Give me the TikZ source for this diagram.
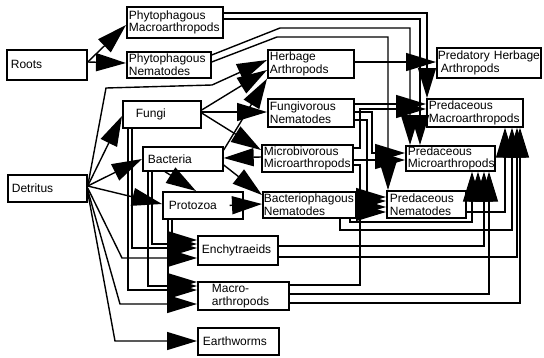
\documentclass[tikz,border=0pt]{standalone}
\usepackage{fontspec}
\setmainfont{Liberation Sans}
\usetikzlibrary{arrows.meta}
\begin{document}
\begin{tikzpicture}[x=1pt,y=-1pt,
  box/.style={draw, line width=1.7pt, anchor=north west, inner ysep=0pt,
    align=left, font=\fontsize{12}{12.8}\selectfont},
  link/.style={line width=1.4pt},
  arr/.style={link, -{Triangle[length=30pt,width=18pt]}},
]
\useasboundingbox (0,0) rectangle (544,357);

% compartments
\node[box, inner xsep=4pt, text width=72pt, minimum height=30pt] (roots) at (6,49) {Roots};
\node[box, inner xsep=2pt, text width=92pt, minimum height=31pt] (pmac) at (126,6) {Phytophagous\\Macroarthropods};
\node[box, inner xsep=2pt, text width=80pt, minimum height=26pt] (pnem) at (126,51) {Phytophagous\\Nematodes};
\node[box, inner xsep=2pt, text width=82pt, minimum height=28pt] (herb) at (267,49) {Herbage\\Arthropods};
\node[box, inner xsep=1pt, text width=102pt, minimum height=30pt] (predherb) at (436,47) {\mbox{Predatory Herbage}\\\hspace*{3pt}Arthropods};
\node[box, inner xsep=13pt, text width=52pt, minimum height=27pt] (fungi) at (122,100) {Fungi};
\node[box, inner xsep=2pt, text width=82pt, minimum height=28pt] (fnem) at (267,98) {Fungivorous\\Nematodes};
\node[box, inner xsep=2pt, text width=92pt, minimum height=28pt] (pmacro) at (426,98) {Predaceous\\Macroarthropods};
\node[box, inner xsep=5pt, text width=70pt, minimum height=24pt] (bact) at (142,146) {Bacteria};
\node[box, inner xsep=2pt, text width=87pt, minimum height=27pt] (micro) at (261,144) {Microbivorous\\Microarthropods};
\node[box, inner xsep=2pt, text width=85pt, minimum height=25pt] (pmicro) at (405,145) {Predaceous\\Microarthropods};
\node[box, inner xsep=4pt, text width=71pt, minimum height=27pt] (detritus) at (7,174) {Detritus};
\node[box, inner xsep=6pt, text width=68pt, minimum height=27pt] (protozoa) at (162,191) {Protozoa};
\node[box, inner xsep=1pt, text width=91pt, minimum height=26pt] (bnem) at (262,191) {Bacteriophagous\\Nematodes};
\node[box, inner xsep=3pt, text width=73pt, minimum height=27pt] (pnemat) at (386,190) {Predaceous\\Nematodes};
\node[box, inner xsep=4pt, text width=72pt, minimum height=29pt] (ench) at (197,235) {Enchytraeids};
\node[box, inner xsep=14pt, text width=63pt, minimum height=28pt] (macro) at (197,281) {Macro-\\arthropods};
\node[box, inner xsep=5pt, text width=71pt, minimum height=27pt] (earth) at (197,327) {Earthworms};

% roots
\draw[arr] (roots.east |- 0,62) -- (pmac.west |- 0,25);
\draw[arr] (roots.east |- 0,62) -- (pnem.west |- 0,63);

% detritus
\draw[arr] (detritus.east |- 0,186) -- (fungi.west |- 0,116);
\draw[arr] (detritus.east |- 0,186) -- (bact.west |- 0,159);
\draw[arr] (detritus.east |- 0,186) -- (protozoa.west |- 0,204);
\draw[arr] (detritus.east |- 0,186) -- (106,88) -- (212,85) -- (herb.west |- 0,60);
\draw[arr] (detritus.east |- 0,188) -- (122,258) -- (ench.west |- 0,258);
\draw[arr] (detritus.east |- 0,190) -- (120,304) -- (macro.west |- 0,304);
\draw[arr] (detritus.east |- 0,192) -- (115,341) -- (earth.west |- 0,341);

% fungi
\draw[arr] (fungi.east |- 0,110) -- (herb.west |- 0,70);
\draw[arr] (fungi.east |- 0,112) -- (fnem.west |- 0,112);
\draw[arr] (fungi.east |- 0,113) -- (micro.west |- 0,150);
\draw[arr] (fungi.south -| 132,0) -- (132,248) -- (ench.west |- 0,248);
\draw[arr] (fungi.south -| 128,0) -- (128,290) -- (macro.west |- 0,290);

% bacteria
\draw[arr] (bact.east |- 0,150) -- (herb.south west);
\draw[arr] (micro.west |- 0,157) -- (bact.east |- 0,158);
\draw[arr] (bact.east |- 0,165) -- (bnem.west |- 0,195);
\draw[arr] (bact.south -| 165,0) -- (protozoa.north -| 196,0);
\draw[arr] (bact.south -| 152,0) -- (152,244) -- (ench.west |- 0,244);
\draw[arr] (bact.south -| 148,0) -- (148,286) -- (macro.west |- 0,286);

% protozoa
\draw[arr] ([xshift=-14pt]protozoa.east) -- (bnem.west |- 0,204);
\draw[arr] (protozoa.south -| 172,0) -- (172,240) -- (ench.west |- 0,240);
\draw[arr] (protozoa.south -| 168,0) -- (168,282) -- (macro.west |- 0,282);

% phytophagous macroarthropods
\draw[arr] (pmac.east |- 0,13) -- (427,13) -- (pmacro.north -| 427,0);
\draw[arr] (pmac.east |- 0,19) -- (420,19) -- (pmicro.north -| 420,0);

% phytophagous nematodes
\draw[arr] (pnem.east |- 0,55) -- (280,28) -- (410,28) -- (pmicro.north -| 410,0);
\draw[arr] (pnem.east |- 0,62) -- (277,37) -- (388,37) -- (pnemat.north -| 388,0);

% herbage arthropods
\draw[arr] (herb.east |- 0,62) -- (predherb.west |- 0,62);

% fungivorous nematodes
\draw[arr] (fnem.east |- 0,104) -- (pmacro.west |- 0,104);
\draw[arr] (fnem.east |- 0,112) -- (372,112) -- (372,153) -- (pmicro.west |- 0,153);
\draw[arr] (fnem.east |- 0,120) -- (367,120) -- (367,197) -- (pnemat.west |- 0,197);

% microbivorous microarthropods
\draw[arr] (micro.east |- 0,148) -- (360,148) -- (360,109) -- (pmacro.west |- 0,109);
\draw[arr] (micro.east |- 0,160) -- (pmicro.west |- 0,160);
\draw[arr] (micro.east |- 0,165) -- (360,165) -- (360,207) -- (pnemat.west |- 0,207);

% bacteriophagous nematodes
\draw[arr] (bnem.east |- 0,201) -- (pnemat.west |- 0,201);
\draw[arr] (bnem.south -| 350,0) -- (350,222) -- (472,222) -- (pmicro.south -| 472,0);
\draw[arr] (bnem.south -| 340,0) -- (340,230) -- (512,230) -- (pmacro.south -| 512,0);

% predaceous nematodes
\draw[arr] (pnemat.east |- 0,197) -- (478,197) -- (pmicro.south -| 478,0);
\draw[arr] (pnemat.east |- 0,212) -- (505,212) -- (pmacro.south -| 505,0);

% enchytraeids
\draw[arr] (ench.east |- 0,246) -- (484,246) -- (pmicro.south -| 484,0);
\draw[arr] (ench.east |- 0,257) -- (517,257) -- (pmacro.south -| 517,0);

% macroarthropods
\draw[arr] (macro.east |- 0,285) -- (360,285) -- (360,212) -- (pnemat.west |- 0,212);
\draw[arr] (macro.east |- 0,294) -- (489,294) -- (pmicro.south -| 489,0);
\draw[arr] (macro.east |- 0,303) -- (520,303) -- (pmacro.south -| 520,0);
\end{tikzpicture}
\end{document}
